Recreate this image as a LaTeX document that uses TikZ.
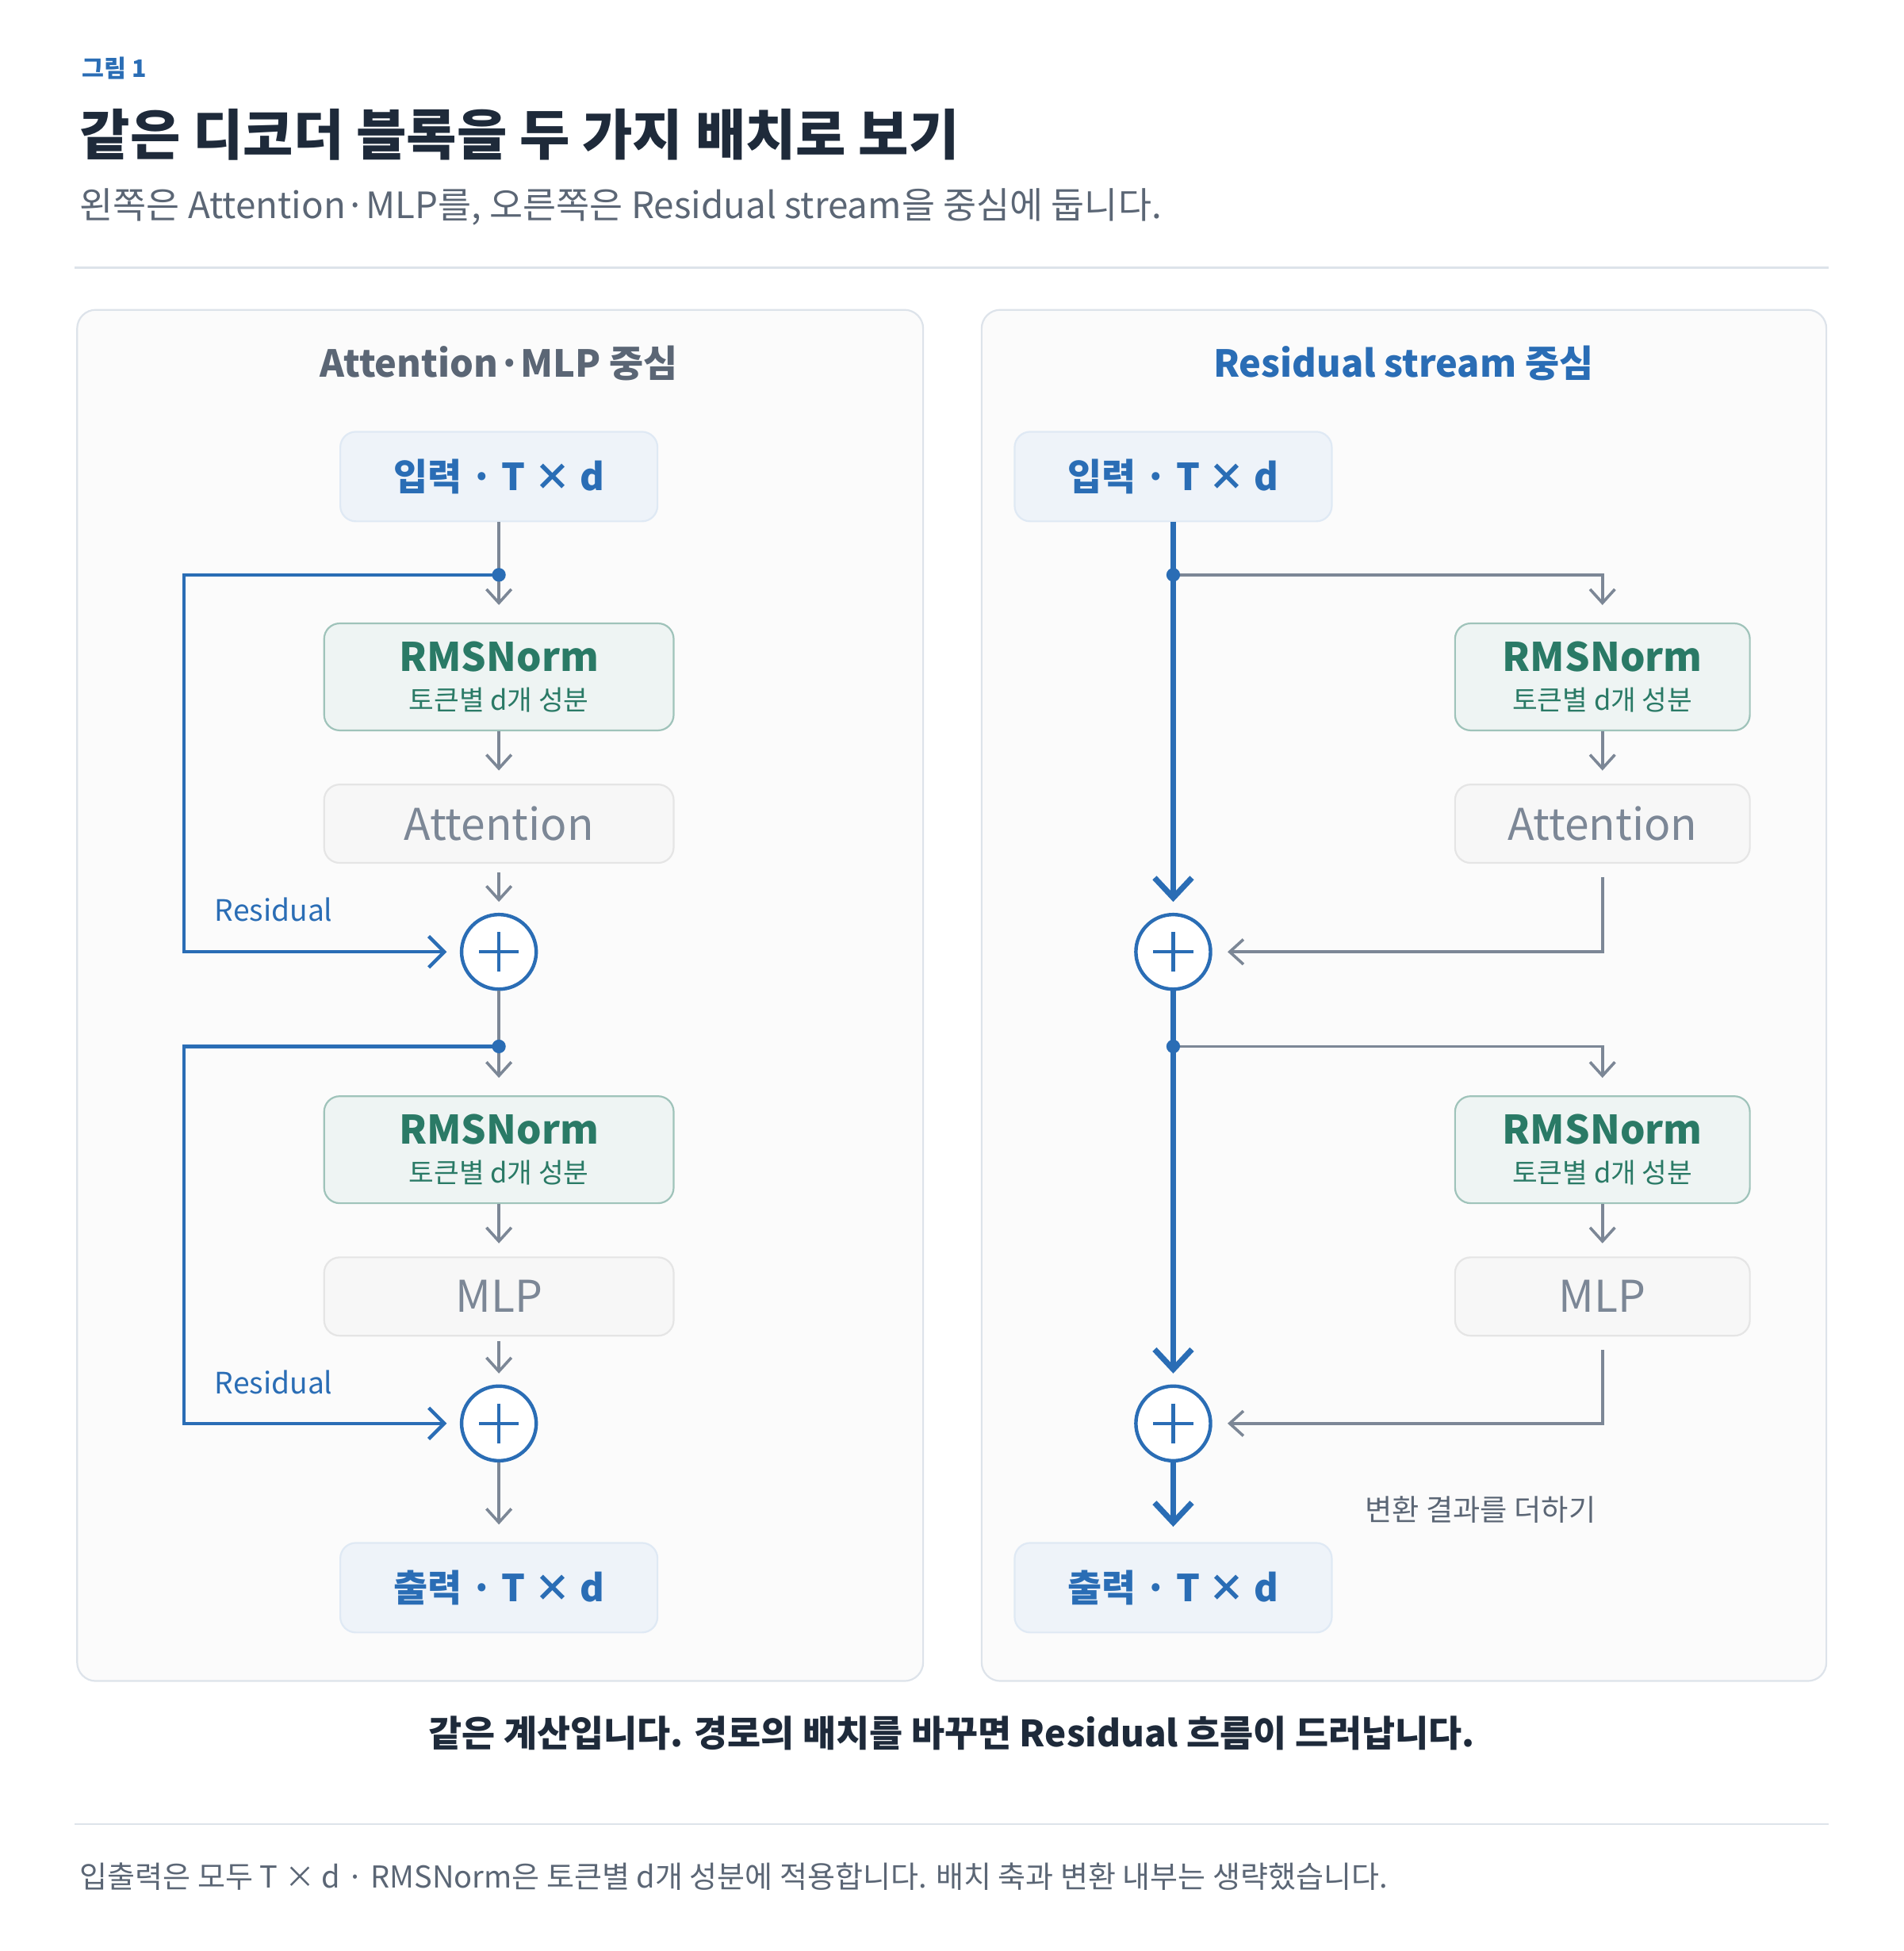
\documentclass[tikz,border=0pt]{standalone}
\usepackage{fontspec}
\setmainfont{Noto Sans CJK KR}
\usetikzlibrary{arrows.meta}
\definecolor{navy}{HTML}{1E2A3A}
\definecolor{blu}{HTML}{2A6DB5}
\definecolor{gtx}{HTML}{5B6675}
\definecolor{grl}{HTML}{7C8796}
\definecolor{grn}{HTML}{2A7A66}
\definecolor{rule}{HTML}{DDE3EA}
\tikzset{
 x=0.02cm,y=-0.02cm,
 panel/.style={draw=rule,fill=black!1.5!white,line width=0.8pt,rounded corners=0.3cm},
 io/.style={draw=blu!15,fill=blu!8,line width=0.8pt,rounded corners=0.25cm,text=blu,font=\fontsize{17}{20}\selectfont\bfseries},
 norm/.style={draw=grn!45,fill=grn!8,line width=0.8pt,rounded corners=0.25cm,font=\fontsize{12.5}{18}\selectfont},
 op/.style={draw=black!10,fill=black!3,line width=0.8pt,rounded corners=0.25cm,text=grl,font=\fontsize{20}{24}\selectfont},
 garr/.style={draw=grl,line width=1.3pt,-{Straight Barb[length=2.2mm,width=4mm]}},
 gline/.style={draw=grl,line width=1.3pt},
 barr/.style={draw=blu,line width=1.6pt,-{Straight Barb[length=2.5mm,width=5mm]}},
 bthick/.style={draw=blu,line width=2.6pt,-{Straight Barb[length=3.2mm,width=6mm]}},
 dot/.style={circle,fill=blu,inner sep=0pt,minimum size=2.2mm},
 plus/.style={circle,draw=blu,line width=1.6pt,fill=white,minimum size=1.2cm,inner sep=0pt},
}
\newcommand{\normtxt}{\textcolor{grn}{\fontsize{18}{20}\selectfont\bfseries RMSNorm}\\\textcolor{grn}{\fontsize{12.5}{18}\selectfont 토큰별 d개 성분}}
\begin{document}
\begin{tikzpicture}
\useasboundingbox (0,0) rectangle (1530,1568);
\node[anchor=west,text=blu,font=\fontsize{11}{13}\selectfont\bfseries] (fig) at (60,55) {그림 1};
\node[anchor=west,text=navy,font=\fontsize{25}{30}\selectfont\bfseries] (title) at (58,108) {같은 디코더 블록을 두 가지 배치로 보기};
\node[anchor=west,text=gtx,font=\fontsize{16.6}{19}\selectfont] (sub) at (58,166) {왼쪽은 Attention·MLP를, 오른쪽은 Residual stream을 중심에 둡니다.};
\draw[rule,line width=1pt] (60,215) -- (1470,215);
\draw[panel] (62,249) rectangle (742,1351);
\draw[panel] (789,249) rectangle (1468,1351);
\node[text=gtx,font=\fontsize{17}{20}\selectfont\bfseries] (lt) at (401,292) {Attention·MLP 중심};
\node[text=blu,font=\fontsize{17}{20}\selectfont\bfseries] (rt) at (1128,292) {Residual stream 중심};

% ---- left
\node[io,minimum width=5.1cm,minimum height=1.44cm] (lin) at (401,383) {입력 · T × d};
\node[norm,minimum width=5.62cm,minimum height=1.72cm,align=center] (ln1) at (401,544) {\normtxt};
\node[op,minimum width=5.62cm,minimum height=1.26cm] (latt) at (401,662) {Attention};
\node[plus] (lp1) at (401,765) {};
\draw[blu,line width=1.6pt] (lp1.center)+(-16,0) -- +(16,0) (lp1.center)+(0,-16) -- +(0,16);
\node[norm,minimum width=5.62cm,minimum height=1.72cm,align=center] (ln2) at (401,924) {\normtxt};
\node[op,minimum width=5.62cm,minimum height=1.26cm] (lmlp) at (401,1042) {MLP};
\node[plus] (lp2) at (401,1144) {};
\draw[blu,line width=1.6pt] (lp2.center)+(-16,0) -- +(16,0) (lp2.center)+(0,-16) -- +(0,16);
\node[io,minimum width=5.1cm,minimum height=1.44cm] (lout) at (401,1276) {출력 · T × d};
\coordinate (ld1) at (401,462);
\coordinate (ld2) at (401,841);
\draw[garr] (lin.south) -- ([yshift=8]ln1.north);
\draw[garr] (ln1.south) -- ([yshift=6]latt.north);
\draw[garr] ([yshift=-4]latt.south) -- ([yshift=5]lp1.north);
\draw[gline] (lp1.south) -- (ld2);
\draw[garr] (ld2) -- ([yshift=8]ln2.north);
\draw[garr] (ln2.south) -- ([yshift=6]lmlp.north);
\draw[garr] ([yshift=-2]lmlp.south) -- ([yshift=5]lp2.north);
\draw[garr] (lp2.south) -- ([yshift=8]lout.north);
\draw[barr] (ld1) -- (148,462) -- (148,765) -- ([xshift=-6]lp1.west);
\draw[barr] (ld2) -- (148,841) -- (148,1144) -- ([xshift=-6]lp2.west);
\node[dot] at (ld1) {};
\node[dot] at (ld2) {};
\node[text=blu,font=\fontsize{13.5}{16}\selectfont] (r1) at (220,731) {Residual};
\node[text=blu,font=\fontsize{13.5}{16}\selectfont] (r2) at (220,1111) {Residual};

% ---- right
\node[io,minimum width=5.1cm,minimum height=1.44cm] (rin) at (943,383) {입력 · T × d};
\node[norm,minimum width=4.74cm,minimum height=1.72cm,align=center] (rn1) at (1288,544) {\normtxt};
\node[op,minimum width=4.74cm,minimum height=1.26cm] (ratt) at (1288,662) {Attention};
\node[plus] (rp1) at (943,765) {};
\draw[blu,line width=1.6pt] (rp1.center)+(-16,0) -- +(16,0) (rp1.center)+(0,-16) -- +(0,16);
\node[norm,minimum width=4.74cm,minimum height=1.72cm,align=center] (rn2) at (1288,924) {\normtxt};
\node[op,minimum width=4.74cm,minimum height=1.26cm] (rmlp) at (1288,1042) {MLP};
\node[plus] (rp2) at (943,1144) {};
\draw[blu,line width=1.6pt] (rp2.center)+(-16,0) -- +(16,0) (rp2.center)+(0,-16) -- +(0,16);
\node[io,minimum width=5.1cm,minimum height=1.44cm] (rout) at (943,1276) {출력 · T × d};
\coordinate (rd1) at (943,462);
\coordinate (rd2) at (943,841);
\draw[garr] (rd1) -- (1288,462) -- ([yshift=8]rn1.north);
\draw[garr] (rn1.south) -- ([yshift=6]ratt.north);
\draw[garr] ([yshift=-6]ratt.south) -- (1288,765) -- ([xshift=7]rp1.east);
\draw[garr] (rd2) -- (1288,841) -- ([yshift=8]rn2.north);
\draw[garr] (rn2.south) -- ([yshift=6]rmlp.north);
\draw[garr] ([yshift=-6]rmlp.south) -- (1288,1144) -- ([xshift=7]rp2.east);
\draw[bthick] (rin.south) -- ([yshift=5]rp1.north);
\draw[bthick] (rp1.south) -- ([yshift=5]rp2.north);
\draw[bthick] (rp2.south) -- ([yshift=7]rout.north);
\node[dot] at (rd1) {};
\node[dot] at (rd2) {};
\node[text=gtx,font=\fontsize{13.5}{16}\selectfont] (lbl) at (1190,1213) {변환 결과를 더하기};

\node[text=navy,font=\fontsize{16.6}{19}\selectfont\bfseries] (cap) at (765,1393) {같은 계산입니다. 경로의 배치를 바꾸면 Residual 흐름이 드러납니다.};
\draw[rule,line width=1pt] (60,1466) -- (1470,1466);
\node[anchor=west,text=gtx,font=\fontsize{13.8}{16}\selectfont] (foot) at (58,1508) {입출력은 모두 T × d · RMSNorm은 토큰별 d개 성분에 적용합니다. 배치 축과 변환 내부는 생략했습니다.};
\end{tikzpicture}
\end{document}
